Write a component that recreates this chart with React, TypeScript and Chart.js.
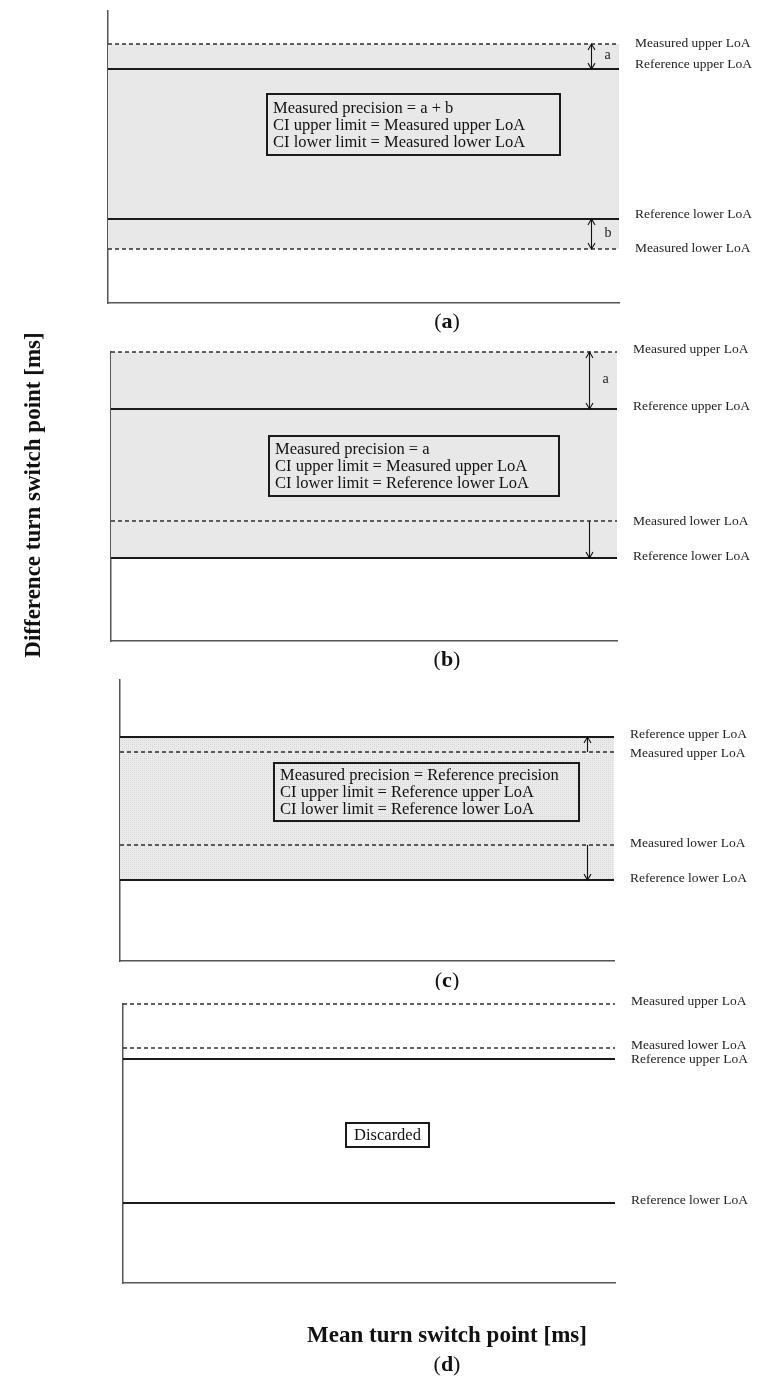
import React, { useEffect, useRef } from "react";
import { Chart, registerables } from "chart.js";

Chart.register(...registerables);

const FONT = '"Liberation Serif", "Times New Roman", serif';

// ---------- data ----------
const lineX = [0, 1];
const yRange = [0, 100];
const arrowX = 0.945;

const levelsA = [88.7, 80.1, 28.8, 18.5];
const labelsA = ["Measured upper LoA", "Reference upper LoA", "Reference lower LoA", "Measured lower LoA"];
const boxTextA = ["Measured precision = a + b", "CI upper limit = Measured upper LoA", "CI lower limit = Measured lower LoA"];

const levelsB = [100, 80.3, 41.5, 28.7];
const labelsB = ["Measured upper LoA", "Reference upper LoA", "Measured lower LoA", "Reference lower LoA"];
const boxTextB = ["Measured precision = a", "CI upper limit = Measured upper LoA", "CI lower limit = Reference lower LoA"];

const levelsC = [79.7, 74.4, 41.3, 28.8];
const labelsC = ["Reference upper LoA", "Measured upper LoA", "Measured lower LoA", "Reference lower LoA"];
const boxTextC = ["Measured precision = Reference precision", "CI upper limit = Reference upper LoA", "CI lower limit = Reference lower LoA"];

const levelsD = [100, 84.2, 80.3, 28.7];
const labelsD = ["Measured upper LoA", "Measured lower LoA", "Reference upper LoA", "Reference lower LoA"];
const boxTextD = ["Discarded"];

const xTitle = "Mean turn switch point [ms]";
const yTitle = "Difference turn switch point [ms]";

// ---------- panel layout ----------
type Arrow = { from: number; to: number; heads: "both" | "end"; text?: string };
type Panel = {
  letter: string;
  levels: number[];
  labels: string[];
  box: string[];
  boxRect: { x0: number; x1: number; y0: number; y1: number };
  boxAlign: "left" | "center";
  shade: [number, number] | null;
  pattern: boolean;
  arrows: Arrow[];
  top: number;
  height: number;
  padding: { left: number; right: number; top: number; bottom: number };
  labelNudge: number[];
  letterY: number;
  title?: string;
  titleY?: number;
};

const panels: Panel[] = [
  {
    letter: "a",
    levels: levelsA,
    labels: labelsA,
    box: boxTextA,
    boxRect: { x0: 0.311, x1: 0.885, y0: 71.6, y1: 50.7 },
    boxAlign: "left",
    shade: [0, 3],
    pattern: false,
    arrows: [
      { from: 0, to: 1, heads: "both", text: "a" },
      { from: 2, to: 3, heads: "both", text: "b" },
    ],
    top: 0,
    height: 340,
    padding: { left: 108, right: 139, top: 11, bottom: 37 },
    labelNudge: [-1, -5, -4, -1],
    letterY: 322,
  },
  {
    letter: "b",
    levels: levelsB,
    labels: labelsB,
    box: boxTextB,
    boxRect: { x0: 0.312, x1: 0.885, y0: 70.9, y1: 50.2 },
    boxAlign: "left",
    shade: [0, 3],
    pattern: false,
    arrows: [
      { from: 0, to: 1, heads: "both", text: "a" },
      { from: 2, to: 3, heads: "end" },
    ],
    top: 340,
    height: 330,
    padding: { left: 111, right: 141, top: 12, bottom: 29 },
    labelNudge: [-3, -2, 0, -2],
    letterY: 320,
  },
  {
    letter: "c",
    levels: levelsC,
    labels: labelsC,
    box: boxTextC,
    boxRect: { x0: 0.312, x1: 0.929, y0: 70.5, y1: 49.8 },
    boxAlign: "left",
    shade: [0, 3],
    pattern: true,
    arrows: [
      { from: 1, to: 0, heads: "end" },
      { from: 2, to: 3, heads: "end" },
    ],
    top: 670,
    height: 320,
    padding: { left: 120, right: 144, top: 10, bottom: 29 },
    labelNudge: [-3, 2, -1, -2],
    letterY: 311,
  },
  {
    letter: "d",
    levels: levelsD,
    labels: labelsD,
    box: boxTextD,
    boxRect: { x0: 0.453, x1: 0.622, y0: 57.3, y1: 48.7 },
    boxAlign: "center",
    shade: null,
    pattern: false,
    arrows: [],
    top: 990,
    height: 389,
    padding: { left: 123, right: 143, top: 14, bottom: 96 },
    labelNudge: [-3, -3, 0, -2],
    letterY: 375,
    title: xTitle,
    titleY: 346,
  },
];

const LETTER_X = 447;

function head(ctx: CanvasRenderingContext2D, x: number, y: number, dir: number) {
  ctx.beginPath();
  ctx.moveTo(x - 3.5, y - dir * 6);
  ctx.lineTo(x, y);
  ctx.lineTo(x + 3.5, y - dir * 6);
  ctx.stroke();
}

const annotPlugin = {
  id: "annot",
  afterDatasetsDraw(chart: any, _args: any, opts: any) {
    const p: Panel = opts.panel;
    if (!p) return;
    const { ctx, chartArea } = chart;
    const xs = chart.scales.x;
    const ys = chart.scales.y;
    ctx.save();

    // arrows
    ctx.strokeStyle = "#111";
    ctx.lineWidth = 1.1;
    const ax = Math.round(xs.getPixelForValue(arrowX)) + 0.5;
    p.arrows.forEach((a) => {
      const y1 = ys.getPixelForValue(p.levels[a.from]);
      const y2 = ys.getPixelForValue(p.levels[a.to]);
      ctx.beginPath();
      ctx.moveTo(ax, y1);
      ctx.lineTo(ax, y2);
      ctx.stroke();
      const dir = Math.sign(y2 - y1);
      head(ctx, ax, y2, dir);
      if (a.heads === "both") head(ctx, ax, y1, -dir);
      if (a.text) {
        ctx.font = `14px ${FONT}`;
        ctx.fillStyle = "#222";
        ctx.textAlign = "left";
        ctx.textBaseline = "middle";
        ctx.fillText(a.text, ax + 13, (y1 + y2) / 2 - 1);
      }
    });

    // text box
    const bx0 = Math.round(xs.getPixelForValue(p.boxRect.x0));
    const bx1 = Math.round(xs.getPixelForValue(p.boxRect.x1));
    const by0 = Math.round(ys.getPixelForValue(p.boxRect.y0));
    const by1 = Math.round(ys.getPixelForValue(p.boxRect.y1));
    ctx.lineWidth = 2;
    ctx.strokeStyle = "#1a1a1a";
    ctx.strokeRect(bx0, by0, bx1 - bx0, by1 - by0);
    ctx.font = `16.5px ${FONT}`;
    ctx.fillStyle = "#111";
    ctx.textBaseline = "middle";
    const cy = (by0 + by1) / 2;
    const n = p.box.length;
    p.box.forEach((t, i) => {
      const yy = cy + (i - (n - 1) / 2) * 17 + 1;
      if (p.boxAlign === "center") {
        ctx.textAlign = "center";
        ctx.fillText(t, (bx0 + bx1) / 2, yy);
      } else {
        ctx.textAlign = "left";
        ctx.fillText(t, bx0 + 6, yy);
      }
    });

    // right-hand labels
    ctx.font = `13.5px ${FONT}`;
    ctx.fillStyle = "#222";
    ctx.textAlign = "left";
    ctx.textBaseline = "middle";
    p.labels.forEach((t, i) => {
      ctx.fillText(t, chartArea.right + 16, ys.getPixelForValue(p.levels[i]) + p.labelNudge[i]);
    });

    // x title
    if (p.title) {
      ctx.font = `bold 23px ${FONT}`;
      ctx.fillStyle = "#111";
      ctx.textAlign = "center";
      ctx.textBaseline = "middle";
      ctx.fillText(p.title, LETTER_X, p.titleY);
    }

    // sub-figure letter "(x)"
    ctx.fillStyle = "#111";
    ctx.textBaseline = "middle";
    ctx.textAlign = "left";
    const regular = `22px ${FONT}`;
    const bold = `bold 22px ${FONT}`;
    ctx.font = regular;
    const wo = ctx.measureText("(").width;
    const wc = ctx.measureText(")").width;
    ctx.font = bold;
    const wl = ctx.measureText(p.letter).width;
    let x = LETTER_X - (wo + wl + wc) / 2;
    ctx.font = regular;
    ctx.fillText("(", x, p.letterY);
    x += wo;
    ctx.font = bold;
    ctx.fillText(p.letter, x, p.letterY);
    x += wl;
    ctx.font = regular;
    ctx.fillText(")", x, p.letterY);

    ctx.restore();
  },
};

function makePattern(): CanvasPattern | string {
  const pc = document.createElement("canvas");
  pc.width = 4;
  pc.height = 4;
  const g = pc.getContext("2d");
  if (!g) return "#e6e6e6";
  g.fillStyle = "#ebebeb";
  g.fillRect(0, 0, 4, 4);
  g.fillStyle = "#d4d4d4";
  g.fillRect(0, 0, 1, 1);
  g.fillRect(2, 2, 1, 1);
  g.fillStyle = "#dedede";
  g.fillRect(2, 0, 1, 1);
  g.fillRect(0, 2, 1, 1);
  const pat = g.createPattern(pc, "repeat");
  return pat || "#e6e6e6";
}

function makeConfig(p: Panel): any {
  const shadeColor = p.pattern ? makePattern() : "#e8e8e8";
  const datasets = p.levels.map((v, i) => {
    const measured = p.labels[i].startsWith("Measured");
    return {
      label: p.labels[i],
      data: lineX.map((x) => ({ x, y: v })),
      borderColor: measured ? "#2e2e2e" : "#1a1a1a",
      borderWidth: measured ? 1.5 : 2,
      borderDash: measured ? [4, 3] : [],
      pointRadius: 0,
      tension: 0,
      clip: false,
      fill: p.shade && p.shade[0] === i ? p.shade[1] : false,
      backgroundColor: shadeColor,
    };
  });
  const axisCommon = {
    display: true,
    ticks: { display: false },
    grid: { display: false, drawTicks: false },
    border: { display: true, color: "#555555", width: 1.5 },
  };
  return {
    type: "line",
    data: { datasets },
    options: {
      responsive: false,
      animation: false,
      events: [],
      layout: { padding: p.padding, autoPadding: false },
      scales: {
        x: { type: "linear", min: lineX[0], max: lineX[1], position: "bottom", ...axisCommon },
        y: { type: "linear", min: yRange[0], max: yRange[1], position: "left", ...axisCommon },
      },
      plugins: {
        legend: { display: false },
        tooltip: { enabled: false },
        filler: { drawTime: "beforeDatasetsDraw" },
        annot: { panel: p },
      },
    },
    plugins: [annotPlugin],
  };
}

function PanelChart({ panel }: { panel: Panel }) {
  const ref = useRef<HTMLCanvasElement | null>(null);
  useEffect(() => {
    if (!ref.current) return;
    const chart = new Chart(ref.current, makeConfig(panel));
    return () => chart.destroy();
  }, [panel]);
  return (
    <canvas
      ref={ref}
      width={758}
      height={panel.height}
      style={{ position: "absolute", left: 0, top: panel.top, display: "block", width: 758, height: panel.height }}
    />
  );
}

export default function App() {
  return (
    <div style={{ position: "absolute", left: 0, top: 0, width: 758, height: 1379, background: "#fff", overflow: "hidden" }}>
      {panels.map((p) => (
        <PanelChart key={p.letter} panel={p} />
      ))}
      <div
        style={{
          position: "absolute",
          left: 35 - 200,
          top: 495 - 15,
          width: 400,
          height: 30,
          lineHeight: "30px",
          textAlign: "center",
          transform: "rotate(-90deg)",
          font: `bold 23px ${FONT}`,
          color: "#111",
          whiteSpace: "nowrap",
        }}
      >
        {yTitle}
      </div>
    </div>
  );
}
